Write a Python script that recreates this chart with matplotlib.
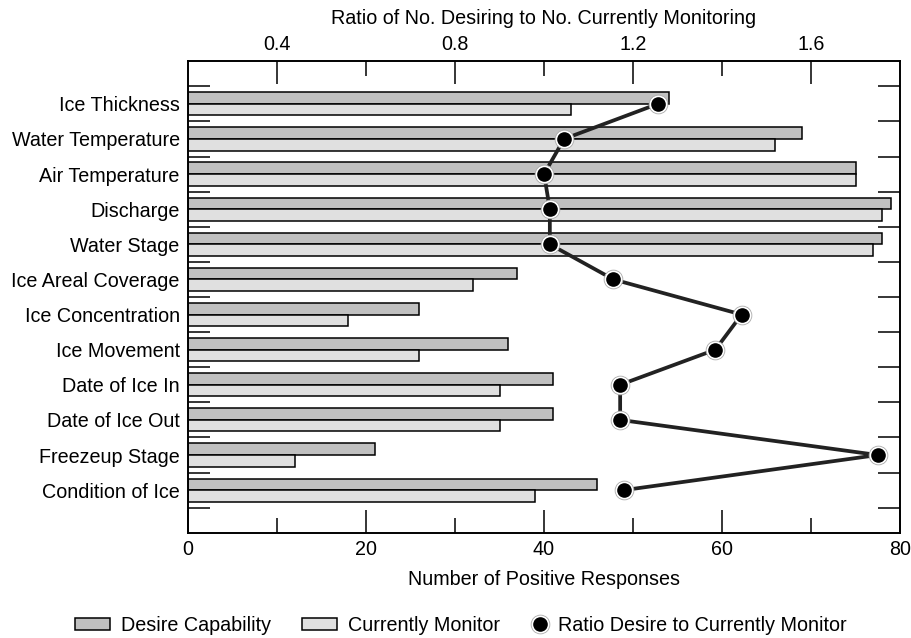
import matplotlib
matplotlib.use("Agg")
import matplotlib.pyplot as plt
from matplotlib.patches import Patch
from matplotlib.lines import Line2D
from matplotlib.ticker import FixedLocator
from matplotlib.legend_handler import HandlerBase

plt.rcParams["font.family"] = ["Liberation Sans", "DejaVu Sans"]
FS = 14.2

categories = [
    "Ice Thickness", "Water Temperature", "Air Temperature", "Discharge",
    "Water Stage", "Ice Areal Coverage", "Ice Concentration", "Ice Movement",
    "Date of Ice In", "Date of Ice Out", "Freezeup Stage", "Condition of Ice",
]
desire = [54, 69, 75, 79, 78, 37, 26, 36, 41, 41, 21, 46]
current = [43, 66, 75, 78, 77, 32, 18, 26, 35, 35, 12, 39]
ratio = [1.256, 1.045, 1.000, 1.013, 1.013, 1.156, 1.444, 1.385, 1.171, 1.171, 1.750, 1.179]

x_ticks = [0, 20, 40, 60, 80]
x_minor = [10, 30, 50, 70]
r_ticks = [0.4, 0.8, 1.2, 1.6]
r_minor = [0.6, 1.0, 1.4]

DARK = "#c0c0c0"
LIGHT = "#e0e0e0"
BAR_H = 0.33


class StackedMarkerHandler(HandlerBase):
    """Draw a tuple of marker-only lines on top of each other, centred."""

    def create_artists(self, legend, orig_handle, xdescent, ydescent,
                       width, height, fontsize, trans):
        x = width / 2 - xdescent
        y = height / 2 - ydescent
        artists = []
        for h in orig_handle:
            a = Line2D([x], [y], linestyle="none", marker="o",
                       markersize=h.get_markersize(),
                       markerfacecolor=h.get_markerfacecolor(),
                       markeredgecolor=h.get_markeredgecolor(),
                       markeredgewidth=h.get_markeredgewidth())
            a.set_transform(trans)
            artists.append(a)
        return artists


fig = plt.figure(figsize=(9.11, 6.38), dpi=100)
ax = fig.add_axes([0.2064, 0.1646, 0.988 - 0.2064, 0.9044 - 0.1646])

pos = list(range(len(categories)))
ax.barh([p - BAR_H / 2 for p in pos], desire, height=BAR_H, color=DARK,
        edgecolor="black", linewidth=1.1, zorder=2)
ax.barh([p + BAR_H / 2 for p in pos], current, height=BAR_H, color=LIGHT,
        edgecolor="black", linewidth=1.1, zorder=2)

ax.set_xlim(0, 80)
ax.set_ylim(len(categories) - 1 + 1.22, -1.22)

ax.set_yticks(pos)
ax.set_yticklabels(categories, fontsize=FS)
ax.yaxis.set_minor_locator(FixedLocator([p - 0.5 for p in range(len(categories) + 1)]))
ax.tick_params(axis="y", which="major", length=0, pad=6, left=True, right=False)
ax.tick_params(axis="y", which="minor", direction="in", length=15.8, width=1.1,
               left=True, right=True)

ax.set_xticks(x_ticks)
ax.xaxis.set_minor_locator(FixedLocator(x_minor))
ax.tick_params(axis="x", which="major", direction="in", length=16.5, width=1.1,
               labelsize=FS, pad=5)
ax.tick_params(axis="x", which="minor", direction="in", length=10.8, width=1.1)
ax.set_xlabel("Number of Positive Responses", fontsize=FS, labelpad=8)

for s in ax.spines.values():
    s.set_linewidth(1.2)

# ratio series on a secondary horizontal scale
ax2 = ax.twiny()
ax2.set_xlim(0.2, 1.8)
ax2.set_xticks(r_ticks)
ax2.set_xticklabels([f"{t:.1f}" for t in r_ticks])
ax2.xaxis.set_minor_locator(FixedLocator(r_minor))
ax2.tick_params(axis="x", which="major", direction="in", length=16.5, width=1.1,
                labelsize=FS, pad=5)
ax2.tick_params(axis="x", which="minor", direction="in", length=10.8, width=1.1)
ax2.set_xlabel("Ratio of No. Desiring to No. Currently Monitoring", fontsize=FS,
               labelpad=8)
for s in ax2.spines.values():
    s.set_linewidth(1.2)

ax2.plot(ratio, pos, color="#222222", linewidth=2.7, zorder=3,
         solid_capstyle="round")
ax2.plot(ratio, pos, linestyle="none", marker="o", markersize=13.5,
         markerfacecolor="white", markeredgecolor="#aaaaaa", markeredgewidth=0.6,
         zorder=4)
ax2.plot(ratio, pos, linestyle="none", marker="o", markersize=9.5,
         markerfacecolor="black", markeredgecolor="black", zorder=5)
ax2.set_ylim(ax.get_ylim())

# bar legend (wide rectangular keys)
bar_handles = [
    Patch(facecolor=DARK, edgecolor="black", linewidth=1.1),
    Patch(facecolor=LIGHT, edgecolor="black", linewidth=1.1),
]
fig.legend(bar_handles, ["Desire Capability", "Currently Monitor"],
           loc="center left", bbox_to_anchor=(0.0625, 0.019), ncol=2,
           frameon=False, fontsize=FS, handlelength=1.8, handleheight=0.55,
           handletextpad=0.55, columnspacing=1.55)

# ratio legend (compact marker key)
ratio_handle = (
    Line2D([], [], linestyle="none", marker="o", markersize=13.5,
           markerfacecolor="white", markeredgecolor="#aaaaaa", markeredgewidth=0.6),
    Line2D([], [], linestyle="none", marker="o", markersize=9.5,
           markerfacecolor="black", markeredgecolor="black", markeredgewidth=1.0),
)
fig.legend([ratio_handle], ["Ratio Desire to Currently Monitor"],
           loc="center left", bbox_to_anchor=(0.5653, 0.019),
           frameon=False, fontsize=FS, handlelength=0.71, handleheight=0.55,
           handletextpad=0.55,
           handler_map={tuple: StackedMarkerHandler()})

fig.savefig("out.png", dpi=100)
